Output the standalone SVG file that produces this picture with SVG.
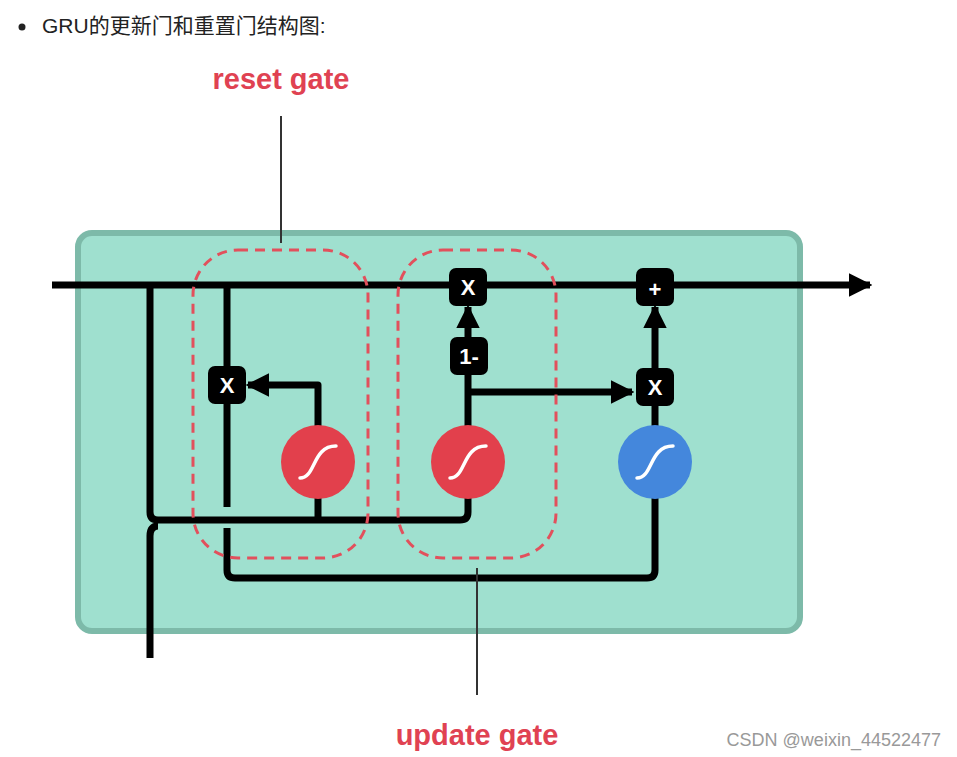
<svg xmlns="http://www.w3.org/2000/svg" width="957" height="757" viewBox="0 0 957 757">
<style>
.w{fill:none;stroke:#000;stroke-width:7;stroke-linejoin:round}
.d{fill:none;stroke:#e2505c;stroke-width:3;stroke-dasharray:10 7}
.op{fill:#000}
.ot{fill:#fff;font-family:"Liberation Sans",Arial,sans-serif;font-weight:bold;font-size:22px;text-anchor:middle}
.sg{fill:none;stroke:#fff;stroke-width:3.5;stroke-linecap:round}
.lbl{fill:#e04252;font-family:"Liberation Sans",Arial,sans-serif;font-weight:bold;font-size:29px;text-anchor:middle}
</style>
<defs>
<marker id="ah" viewBox="0 0 10 10" refX="9" refY="5" markerWidth="3.4" markerHeight="3.4" orient="auto" markerUnits="strokeWidth"><path d="M0,0L10,5L0,10z" fill="#000"/></marker>
</defs>
<rect width="957" height="757" fill="#fff"/>
<circle cx="22" cy="27" r="3.5" fill="#222"/>
<text x="42" y="33" font-family="Liberation Sans,'Noto Sans CJK SC',sans-serif" font-size="21" fill="#222">GRU的更新门和重置门结构图:</text>
<rect id="cell" x="78" y="233" width="722" height="398" rx="14" fill="#9fe0cf" stroke="#7dbaa9" stroke-width="6"/>
<g id="connectors">
<path class="w" d="M52,285H870" marker-end="url(#ah)"/>
<path class="w" d="M150,285V512Q150,520 158,520H460Q468,520 468,512V462"/>
<path class="w" d="M158,526Q150,526 150,536V658"/>
<path class="w" d="M227,285V507"/>
<path class="w" d="M227,528V570Q227,578 235,578H647Q655,578 655,570V462"/>
<path class="w" d="M318,520V462"/>
<path class="w" d="M318,462V385H248" marker-end="url(#ah)"/>
<path class="w" d="M468,462V355"/>
<path class="w" d="M468,340V307" marker-end="url(#ah)"/>
<path class="w" d="M468,392H632" marker-end="url(#ah)"/>
<path class="w" d="M655,462V387"/>
<path class="w" d="M655,370V307" marker-end="url(#ah)"/>
<path d="M281,116V243M477,568V695" stroke="#333" stroke-width="2"/>
</g>
<rect id="reset-gate" class="d" x="193" y="250" width="175" height="308" rx="45"/>
<rect id="update-gate" class="d" x="398" y="250" width="158" height="308" rx="45"/>
<g id="mul-reset"><rect class="op" x="208" y="366" width="38" height="38" rx="7"/><text class="ot" x="227" y="393">X</text></g>
<g id="sig-reset"><circle cx="318" cy="462" r="37" fill="#e2404c"/><path class="sg" d="M300,478C316,478 312,446 336,446"/></g>
<g id="sig-update"><circle cx="468" cy="462" r="37" fill="#e2404c"/><path class="sg" d="M450,478C466,478 462,446 486,446"/></g>
<g id="sig-blue"><circle cx="655" cy="462" r="37" fill="#4487dc"/><path class="sg" d="M637,478C653,478 649,446 673,446"/></g>
<g id="one-minus"><rect class="op" x="450" y="337" width="38" height="38" rx="7"/><text class="ot" x="469" y="364">1-</text></g>
<g id="mul-top"><rect class="op" x="449" y="268" width="38" height="38" rx="7"/><text class="ot" x="468" y="295">X</text></g>
<g id="plus"><rect class="op" x="636" y="268" width="38" height="38" rx="7"/><text class="ot" x="655" y="297" font-size="28">+</text></g>
<g id="mul-right"><rect class="op" x="636" y="368" width="38" height="38" rx="7"/><text class="ot" x="655" y="395">X</text></g>
<text class="lbl" x="281" y="89">reset gate</text>
<text class="lbl" x="477" y="745">update gate</text>
<text x="941" y="746" text-anchor="end" font-family="Liberation Sans,sans-serif" font-size="18" fill="#999">CSDN @weixin_44522477</text>
</svg>
